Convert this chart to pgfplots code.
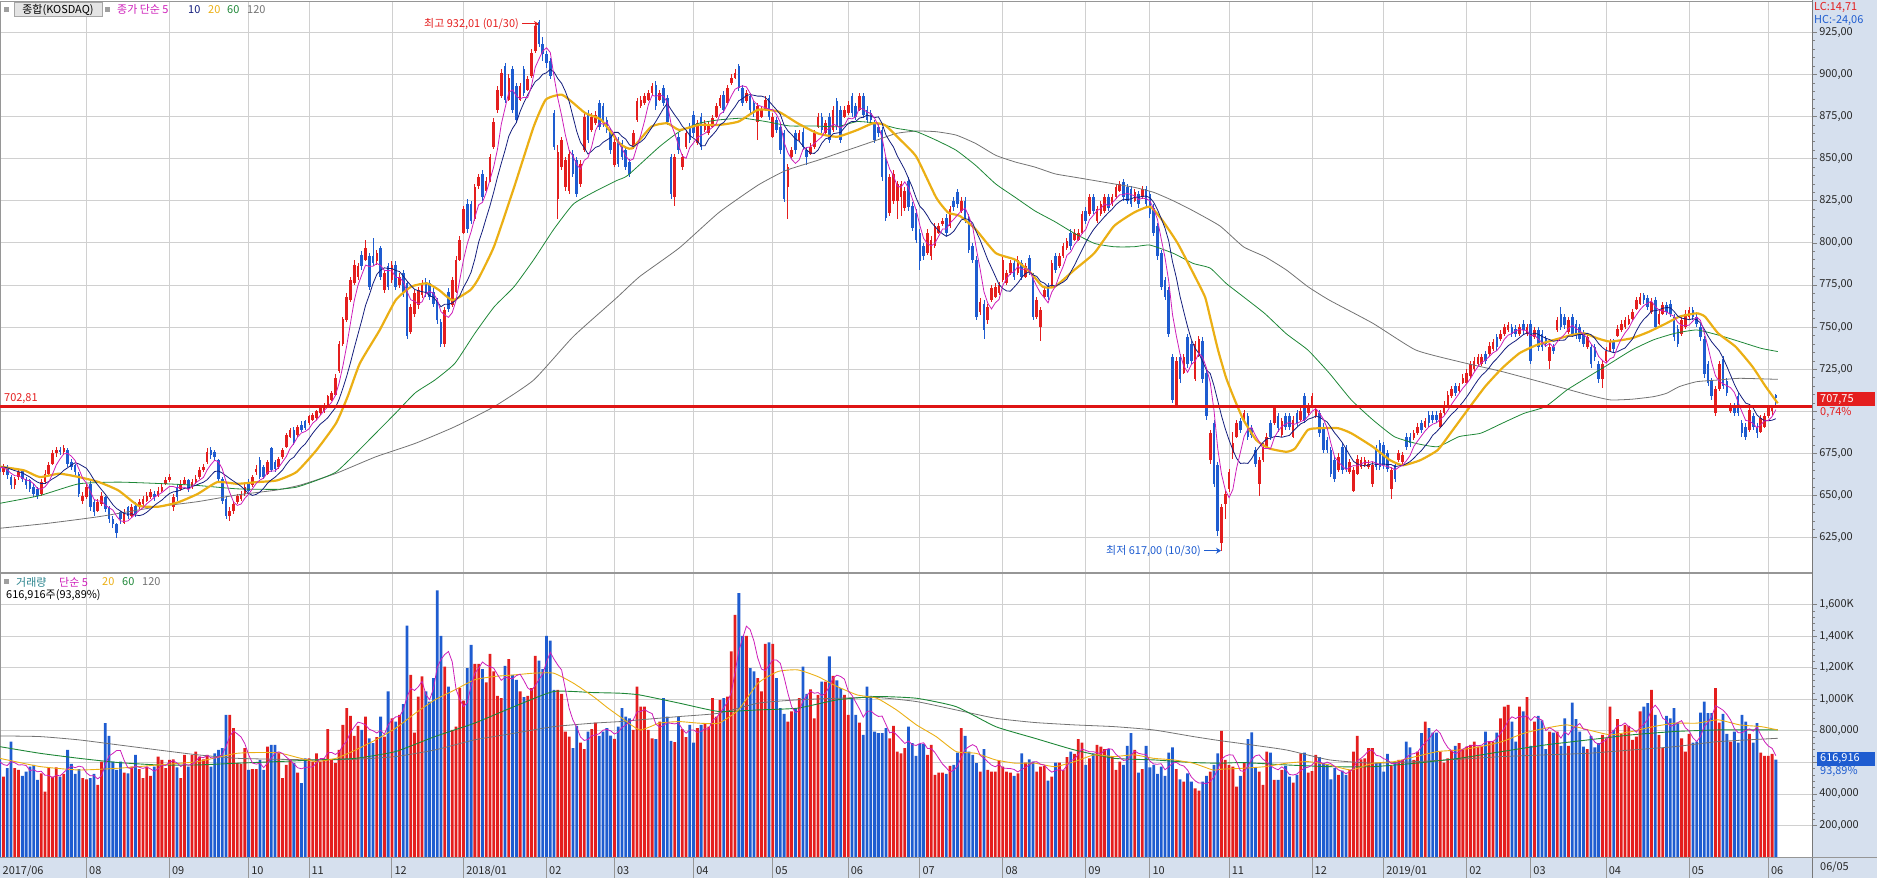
\documentclass[border=0pt]{standalone}
\usepackage{pgfplots}
\pgfplotsset{compat=1.18}
\usepackage{pgfplotstable}
\usepackage{fontspec}
\setmainfont{Noto Sans CJK KR}
\newfontfamily\kr{Noto Sans CJK KR}
\usetikzlibrary{arrows.meta}
\definecolor{cup}{RGB}{228,30,30}
\definecolor{cdn}{RGB}{30,92,208}
\definecolor{cma5}{RGB}{205,30,185}
\definecolor{cma10}{RGB}{20,30,125}
\definecolor{cma20}{RGB}{235,175,20}
\definecolor{cma60}{RGB}{30,135,55}
\definecolor{cma120}{RGB}{115,115,115}
\definecolor{gridc}{RGB}{208,208,208}
\definecolor{framec}{RGB}{150,150,150}
\definecolor{panelbg}{RGB}{214,224,238}
\definecolor{tealc}{RGB}{40,130,140}
\definecolor{lblc}{RGB}{40,40,40}

\pgfplotstableread{
i o h l c v
-10 666 668 663 665 610
-9 665 669 664 667 600
-8 667 669 664 665 580
-7 665 669 664 668 620
-6 668 671 666 670 640
-5 670 672 666 667 600
-4 667 670 665 669 590
-3 669 671 665 666 610
-2 666 669 663 667 600
-1 667 668 662 664 620
0 664 669 662 667 510
1 667 668 660 662 563
2 661 662 654 656 732
3 656 661 654 660 563
4 661 666 659 664 552
5 665 666 658 660 514
6 660 661 654 656 542
7 659 660 652 654 574
8 655 657 649 651 584
9 654 655 648 650 489
10 651 660 650 658 531
11 658 665 657 663 415
12 663 670 662 668 569
13 669 677 668 675 510
14 675 679 673 677 569
15 677 679 674 676 510
16 676 680 674 678 527
17 677 678 667 669 679
18 670 672 665 667 590
19 668 669 662 664 527
20 663 664 649 651 557
21 647 652 645 650 500
22 649 657 648 655 493
23 657 659 641 643 500
24 646 648 638 640 527
25 641 648 640 646 457
26 645 652 644 650 605
27 649 650 640 642 849
28 643 644 634 636 768
29 636 638 631 633 605
30 633 634 625 628 552
31 640 641 633 636 605
32 634 642 633 640 535
33 643 644 636 638 531
34 638 645 637 643 574
35 644 646 637 639 648
36 643 648 642 646 557
37 645 650 644 648 500
38 647 652 646 650 574
39 649 654 648 652 514
40 651 653 647 649 574
41 650 655 649 653 637
42 653 657 652 655 616
43 657 661 656 659 563
44 659 663 658 661 616
45 643 651 641 649 620
46 655 657 647 649 569
47 654 659 653 657 500
48 657 661 656 659 648
49 659 660 652 654 574
50 655 660 654 658 648
51 658 662 657 660 669
52 661 667 660 665 637
53 665 669 664 667 620
54 670 678 669 676 648
55 677 679 672 674 574
56 676 677 671 673 658
57 671 672 658 660 679
58 660 661 645 647 690
59 648 650 636 638 902
60 638 643 635 641 902
61 641 647 639 645 817
62 646 651 645 650 595
63 648 653 647 651 590
64 651 657 650 655 690
65 658 660 652 653 552
66 656 662 655 661 557
67 664 668 662 666 557
68 671 673 660 661 616
69 667 668 660 661 552
70 663 671 662 670 700
71 678 679 664 665 711
72 670 671 664 666 711
73 667 673 666 672 662
74 673 678 672 677 500
75 679 687 678 686 584
76 685 690 684 689 616
77 689 691 680 681 595
78 686 692 685 691 535
79 692 694 688 689 468
80 694 695 689 690 626
81 693 698 692 697 626
82 695 699 694 698 605
83 696 701 695 700 658
84 699 704 698 703 605
85 700 705 699 704 626
86 704 710 703 709 811
87 707 712 706 711 616
88 710 722 709 720 595
89 724 742 723 740 679
90 740 756 739 755 838
91 754 770 753 768 944
92 766 780 765 778 895
93 776 790 775 787 768
94 780 788 778 786 832
95 793 795 784 786 806
96 790 802 789 797 891
97 792 794 772 774 753
98 792 803 786 788 722
99 789 796 787 794 760
100 797 798 778 780 891
101 772 784 770 782 764
102 786 788 772 774 1050
103 778 789 776 787 880
104 787 789 772 774 859
105 775 782 773 780 902
106 782 784 768 770 969
107 776 777 743 745 1467
108 747 764 746 762 1155
109 758 772 756 770 789
110 763 774 761 772 1018
111 769 778 767 776 1145
112 777 779 768 770 1050
113 776 778 766 768 986
114 771 773 762 764 1134
115 766 767 752 754 1691
116 753 755 738 740 1403
117 740 762 738 760 1208
118 771 773 759 761 1081
119 763 780 762 778 806
120 771 792 770 790 827
121 790 804 789 802 1071
122 806 822 805 820 992
123 823 826 806 808 1198
124 823 825 811 813 1346
125 814 835 813 833 1225
126 834 841 832 839 1225
127 841 843 825 827 1191
128 831 839 830 837 1107
129 837 853 836 851 1289
130 857 874 856 872 1177
131 879 893 877 891 1022
132 887 903 886 901 1007
133 905 907 883 885 1213
134 885 900 884 898 1255
135 903 905 877 879 1155
136 893 895 871 873 1124
137 885 895 884 893 1050
138 903 905 887 889 1014
139 891 899 890 897 1022
140 899 915 898 913 1071
141 914 931 913 929 1276
142 931 932.01 916 918 1246
143 918 922 908 912 1191
144 912 914 904 907 1403
145 908 910 897 899 1373
146 877 879 855 857 1060
147 826 858 814 854 1060
148 845 863 843 861 1035
149 833 851 831 849 796
150 831 855 829 853 764
151 853 855 839 841 690
152 849 851 827 829 832
153 835 849 833 847 726
154 855 877 854 875 684
155 877 879 859 861 796
156 867 877 866 875 811
157 871 878 870 876 853
158 883 885 867 869 768
159 881 883 869 871 796
160 873 875 865 867 817
161 866 868 853 855 770
162 846 862 845 860 749
163 861 863 845 847 827
164 859 861 849 851 944
165 855 857 843 845 891
166 848 850 839 841 880
167 857 867 856 865 806
168 873 886 872 884 1081
169 881 887 880 885 954
170 883 889 882 887 954
171 885 891 884 889 806
172 889 895 888 893 753
173 894 896 879 881 747
174 885 891 884 889 859
175 892 894 881 883 1007
176 886 888 870 872 891
177 851 853 826 829 736
178 827 853 822 851 728
179 863 865 853 855 891
180 845 853 843 851 811
181 857 867 856 865 760
182 869 871 859 861 838
183 876 878 863 865 726
184 859 873 858 871 817
185 875 877 855 857 838
186 867 873 866 871 849
187 865 872 864 870 827
188 869 876 868 874 1007
189 875 883 874 881 891
190 881 888 880 886 997
191 888 890 877 879 1007
192 883 894 882 892 1018
193 895 900 894 898 1304
194 898 903 897 901 1536
195 905 906 890 892 1674
196 892 894 881 883 1403
197 884 891 883 889 1403
198 887 889 877 879 1198
199 883 885 875 877 1177
200 872 883 861 881 1134
201 875 881 874 879 1050
202 879 887 878 885 1352
203 886 888 873 875 1361
204 863 877 862 875 1352
205 873 875 865 867 1134
206 869 871 853 855 944
207 865 867 824 826 908
208 833 847 814 845 859
209 851 857 850 855 923
210 865 867 853 855 944
211 861 867 860 865 1007
212 866 868 855 857 1208
213 855 857 846 851 1035
214 853 859 852 857 1064
215 857 867 856 865 880
216 869 877 868 875 1028
217 875 877 865 867 1113
218 865 873 864 871 1113
219 875 877 859 861 1272
220 867 881 866 879 1149
221 884 886 867 869 1120
222 879 881 859 861 1071
223 875 881 874 879 1028
224 877 884 876 882 902
225 887 889 875 877 1007
226 881 883 873 875 902
227 879 889 878 887 853
228 887 889 874 876 775
229 879 881 871 873 1081
230 877 879 871 873 1022
231 871 873 859 861 796
232 869 871 863 865 785
233 867 869 837 839 785
234 849 851 813 815 817
235 818 841 816 839 753
236 825 843 823 841 832
237 825 837 814 835 669
238 827 837 816 835 658
239 821 833 819 831 690
240 837 839 819 821 827
241 822 824 807 809 722
242 818 820 800 802 641
243 806 808 784 789 717
244 798 800 790 792 717
245 794 808 793 806 648
246 792 804 790 802 711
247 798 812 797 810 521
248 806 812 805 810 535
249 811 815 810 813 535
250 815 817 804 806 527
251 810 822 809 820 578
252 825 827 819 821 584
253 830 832 821 823 662
254 819 827 818 825 817
255 825 827 812 814 768
256 815 817 794 796 669
257 798 800 788 790 648
258 790 792 754 756 595
259 759 767 757 765 542
260 764 766 743 748 684
261 754 764 752 762 552
262 766 775 765 773 542
263 768 776 767 774 542
264 770 777 769 775 612
265 778 792 777 790 574
266 776 784 775 782 542
267 782 790 781 788 535
268 788 790 778 780 514
269 782 792 781 790 531
270 788 790 778 780 658
271 780 788 779 786 599
272 791 793 781 783 620
273 780 782 754 756 605
274 756 768 755 766 542
275 750 762 742 760 574
276 768 774 767 772 578
277 774 776 766 768 485
278 774 790 773 788 510
279 792 794 782 784 599
280 786 794 785 792 599
281 792 800 791 798 552
282 797 803 796 801 633
283 806 808 796 798 669
284 802 808 801 806 654
285 802 808 801 806 747
286 806 819 805 817 726
287 819 821 811 813 584
288 817 829 816 827 626
289 827 829 817 819 658
290 813 822 812 820 711
291 817 825 816 823 700
292 819 829 818 827 684
293 827 829 819 821 684
294 823 829 822 827 637
295 827 835 826 833 552
296 831 837 830 835 605
297 836 838 825 827 584
298 833 835 823 825 705
299 832 834 821 823 785
300 825 832 824 830 679
301 829 831 821 823 535
302 827 834 826 832 557
303 832 834 821 823 705
304 829 831 815 817 569
305 821 823 804 806 584
306 810 812 790 792 527
307 794 796 772 774 574
308 778 780 766 768 514
309 772 774 744 746 662
310 732 734 705 707 696
311 704 732 703 730 557
312 732 734 717 719 493
313 723 734 722 732 478
314 744 746 726 728 531
315 740 742 728 730 478
316 719 742 718 740 436
317 733 745 732 743 421
318 742 744 717 719 478
319 723 725 695 697 514
320 671 689 669 687 542
321 693 695 655 657 584
322 668 670 626 629 658
323 622 645 617 643 800
324 645 653 636 651 616
325 654 666 652 664 584
326 675 688 672 681 574
327 685 695 684 693 447
328 694 696 687 689 514
329 695 701 694 699 595
330 697 699 683 685 747
331 690 692 684 686 791
332 677 679 667 669 563
333 657 673 650 671 542
334 671 681 670 679 457
335 679 687 678 685 669
336 693 695 683 685 662
337 693 704 692 702 489
338 697 699 688 690 489
339 686 696 685 694 552
340 697 699 689 691 578
341 697 699 689 691 510
342 685 697 684 695 472
343 699 701 691 693 521
344 695 702 694 700 658
345 709 711 693 695 662
346 699 705 698 703 535
347 703 711 702 709 544
348 697 703 696 701 648
349 699 701 685 687 633
350 691 693 675 677 595
351 683 685 675 677 590
352 677 679 661 663 493
353 671 673 658 660 563
354 665 675 664 673 521
355 679 681 663 665 548
356 678 680 664 666 521
357 664 672 663 670 552
358 653 667 652 665 669
359 663 674 662 672 768
360 667 673 666 671 620
361 668 673 667 671 626
362 667 671 666 669 690
363 657 670 655 668 690
364 678 680 665 667 599
365 681 683 665 667 595
366 680 682 666 668 542
367 675 677 664 666 654
368 654 667 648 665 578
369 668 670 658 660 599
370 671 677 670 675 616
371 670 676 669 674 616
372 685 687 677 679 732
373 685 687 679 681 696
374 684 689 683 687 616
375 687 693 686 691 669
376 693 695 687 689 785
377 691 696 690 694 859
378 698 700 691 693 817
379 698 700 693 695 789
380 698 700 693 695 789
381 691 701 690 699 669
382 699 706 698 704 599
383 704 712 703 710 626
384 709 715 708 713 679
385 715 717 709 711 705
386 712 717 711 715 722
387 717 722 716 720 686
388 717 725 716 723 700
389 721 730 720 728 711
390 725 732 724 730 732
391 728 734 727 732 700
392 728 734 727 732 705
393 734 736 728 730 796
394 734 741 733 739 732
395 737 743 736 741 732
396 744 746 736 738 789
397 743 748 742 746 880
398 746 752 745 750 954
399 748 753 747 751 965
400 750 752 744 746 859
401 749 751 744 746 732
402 746 752 745 750 954
403 752 754 746 748 923
404 746 752 745 750 1014
405 752 754 728 730 705
406 744 750 743 748 859
407 748 750 736 738 895
408 746 748 736 738 866
409 743 745 738 740 684
410 730 740 725 738 796
411 738 740 734 736 789
412 748 756 747 754 796
413 758 762 748 750 705
414 756 758 749 751 880
415 747 756 746 754 705
416 756 758 744 746 980
417 752 754 743 745 874
418 750 752 741 743 796
419 746 748 738 740 700
420 738 746 737 744 684
421 738 740 726 728 768
422 738 740 730 732 696
423 728 730 717 719 722
424 719 730 714 728 775
425 730 738 729 736 753
426 736 743 735 741 954
427 741 743 735 737 806
428 745 751 744 749 874
429 748 754 747 752 781
430 750 756 749 754 838
431 752 757 751 755 832
432 755 761 754 759 743
433 761 768 760 766 764
434 764 770 763 768 923
435 769 770 764 766 954
436 767 769 760 762 976
437 759 767 758 765 1060
438 766 768 748 750 902
439 752 760 751 758 775
440 758 765 757 763 690
441 763 765 757 759 895
442 764 766 756 758 880
443 756 758 742 744 944
444 749 751 738 740 853
445 746 756 745 754 753
446 750 760 749 758 669
447 756 762 755 760 781
448 760 762 754 756 726
449 756 758 750 752 732
450 750 752 742 744 916
451 743 745 720 722 986
452 728 730 715 717 912
453 718 720 707 709 912
454 699 715 697 713 1071
455 713 730 712 728 853
456 731 733 713 715 908
457 718 720 709 711 781
458 700 705 699 703 732
459 703 705 697 699 796
460 709 711 697 699 726
461 693 695 685 687 902
462 691 693 683 685 859
463 689 703 688 701 781
464 697 699 689 691 726
465 691 693 684 687 849
466 688 698 687 696 662
467 691 699 690 697 641
468 697 704 696 702 641
469 700 704 698 702.5 654
470 709.5 710.5 704 707.75 617
}\data

% moving averages of 5 and 10 rows, computed from the table
\newcommand\computeMA[3]{%
  \gdef\qa{0}\gdef\qb{0}\gdef\qc{0}\gdef\qd{0}\gdef\qe{0}\gdef\qf{0}\gdef\qg{0}\gdef\qh{0}\gdef\qi{0}%
  \gdef#2{}\gdef#3{}%
  \pgfplotstableforeachcolumnelement{#1}\of\data\as\cur{%
    \pgfmathsetmacro\mfive{(\cur+\qa+\qb+\qc+\qd)/5}%
    \pgfmathsetmacro\mten{(\cur+\qa+\qb+\qc+\qd+\qe+\qf+\qg+\qh+\qi)/10}%
    \pgfmathtruncatemacro\xx{\pgfplotstablerow-10}%
    \ifnum\pgfplotstablerow>8 \xdef#2{#2 (\xx,\mfive)}\xdef#3{#3 (\xx,\mten)}\fi
    \global\let\qi\qh \global\let\qh\qg \global\let\qg\qf \global\let\qf\qe
    \global\let\qe\qd \global\let\qd\qc \global\let\qc\qb \global\let\qb\qa
    \global\let\qa\cur
  }%
}
\computeMA{c}{\maFive}{\maTen}
\computeMA{v}{\vmaFive}{\vmaTen}

\pgfplotsset{
  lbl/.style={font=\kr\fontsize{11}{12}\selectfont},
  candle/.style={only marks, mark=none, no markers, mark size=0pt,
     mark options={draw=none, fill=none}, forget plot,
     error bars/.cd, y dir=both, y explicit, error mark=none},
  upsel/.style={restrict expr to domain={\thisrow{c}-\thisrow{o}}{0:1000}},
  dnsel/.style={restrict expr to domain={\thisrow{c}-\thisrow{o}}{-1000:-0.001}},
}

\begin{document}
\begin{tikzpicture}[x=1bp,y=1bp]
\path[use as bounding box] (0bp,0bp) rectangle (1877bp,878bp);
\fill[panelbg] (1812bp,0bp) rectangle (1877bp,878bp);
\fill[panelbg] (0bp,0bp) rectangle (1812bp,21bp);

% ---------------- price panel ----------------
\begin{axis}[
  at={(0bp,305bp)}, anchor=south west, scale only axis,
  width=1812bp, height=572bp,
  xmin=-0.93, xmax=479.6, ymin=604.05, ymax=943.58,
  axis line style={draw=framec, line width=0.8bp},
  xtick={22,44,65,81,103,122,144,162,183,204,224,243,265,287,304,325,347,366,388,405,425,447,468},
  xticklabels={}, xmajorgrids, major x tick style={draw=none},
  ytick={625,650,675,700,725,750,775,800,825,850,875,900,925},
  yticklabels={{625,00},{650,00},{675,00},{},{725,00},{750,00},{775,00},{800,00},{825,00},{850,00},{875,00},{900,00},{925,00}},
  ymajorgrids, ytick pos=right, yticklabel pos=right,
  minor y tick num=4,
  tick align=outside, major tick length=5bp, minor tick length=3bp,
  major y tick style={draw=gray, line width=0.6bp},
  minor y tick style={draw=gray, line width=0.6bp},
  grid style={draw=gridc, line width=0.8bp},
  yticklabel style={lbl, text=lblc, inner sep=0pt, anchor=west, xshift=2bp},
]
% wicks
\addplot[upsel, candle, error bar style={line width=0.9bp, draw=cup}]
  table[x=i, y expr={(\thisrow{h}+\thisrow{l})/2}, y error expr={(\thisrow{h}-\thisrow{l})/2}] {\data};
\addplot[dnsel, candle, error bar style={line width=0.9bp, draw=cdn}]
  table[x=i, y expr={(\thisrow{h}+\thisrow{l})/2}, y error expr={(\thisrow{h}-\thisrow{l})/2}] {\data};
% bodies
\addplot[upsel, candle, error bar style={line width=2.6bp, draw=cup}]
  table[x=i, y expr={(\thisrow{o}+\thisrow{c})/2}, y error expr={max(abs(\thisrow{c}-\thisrow{o})/2,0.4)}] {\data};
\addplot[dnsel, candle, error bar style={line width=2.6bp, draw=cdn}]
  table[x=i, y expr={(\thisrow{o}+\thisrow{c})/2}, y error expr={max(abs(\thisrow{c}-\thisrow{o})/2,0.4)}] {\data};

% MA 120
\addplot[cma120, line width=0.8bp, smooth, tension=0.3] coordinates {
(-1,630.6) (11.6,633.5) (25.3,637.5) (41,643.4) (51.5,646.4) (62,650.4) (72.5,653.3) (78.8,656.3) (88.2,663.2) (98.7,673) (109.2,681) (119.7,690.9) (130.1,702.8) (140.6,718.6) (151.1,744.4) (162.4,767) (168.7,780) (179.2,797) (189.7,818) (200.1,834.3) (207.5,843) (215.9,849) (221.1,853) (226.4,857) (231.6,861) (236.8,865) (242.1,866.4) (247.3,866) (252.6,864) (257.8,859) (263.1,852) (268.3,848) (273.5,845) (278.8,841) (284,839) (289.3,837) (294.5,835) (299.8,833) (305,830) (310.2,825) (315.5,819) (322.6,810) (328.8,797.7) (334.5,791.8) (340.2,783.9) (345.9,774) (351.6,766) (363.1,752.3) (374.5,736.4) (386,729.5) (397.4,723.6) (408.9,716.7) (420.3,709.7) (426.1,706.8) (431.8,707.2) (437.5,708.7) (441,710.7) (444.4,714.7) (449,717.6) (454.7,718.6) (460.4,719.6) (470.5,719)};
% MA 60
\addplot[cma60, line width=0.8bp, smooth, tension=0.3] coordinates {
(-1,645.4) (9.6,650) (20,657) (30.5,658) (43,657) (51.5,656) (62,654) (72.5,653.7) (77.7,655) (83,659) (88.2,664) (93.4,675) (98.7,687) (104,699) (109.2,711) (114.4,718.6) (119.7,728.5) (124.9,746) (130.1,762) (135.4,774) (140.6,790) (145.9,808) (151.1,823) (156.4,830) (162.6,837) (165.5,840) (173.9,857) (179.2,866) (184.4,871) (189.7,873) (196,874) (202.2,872) (208.5,869.4) (214.8,869.4) (221.1,869) (226.4,872) (231.6,871) (236.8,868) (242.1,866) (247.3,861) (252.6,855) (257.8,846) (263.1,835) (268.3,827) (273.5,819) (278.8,812.6) (284,805.6) (289.3,799.7) (294.5,797.7) (299.8,797.7) (304,798.7) (310.2,793.8) (315.5,787.8) (320,785) (324.2,776) (328.8,768) (334.5,758) (340.2,746) (345.9,736.4) (351.6,722.6) (357.4,706.8) (363.1,695) (368.8,685) (374.5,681) (380.3,679) (386,685) (391.7,687) (397.4,692.9) (403.2,698.8) (408.9,702.8) (414.6,712.7) (420.3,720.6) (426.1,728.5) (431.8,736.4) (437.5,742.4) (443.2,746.3) (449,748.3) (454.7,745.3) (460.4,741.4) (466.1,737.4) (470.5,735.5)};
% MA 20
\addplot[cma20, line width=2.2bp, smooth, tension=0.3] coordinates {
(-1,667.2) (5.4,665) (9.6,661) (14.8,663) (20,661) (25.3,658) (30.5,653) (35.8,644) (41,643.4) (46.3,646) (51.5,651) (56.7,658) (62,657) (67.2,658) (72.5,659) (77.7,664) (83,677) (88.2,693) (91.3,709) (94.5,728.5) (99.7,748) (104,766) (108.1,774) (112.3,776) (115.5,772) (119.1,766) (123.8,772) (126,779) (130.1,798) (135.4,833) (140.6,869) (143.8,885) (148,888) (151.1,883) (154.3,877) (158.5,873) (163.4,859) (166.6,856) (171.8,869) (176,871) (179.2,867) (184.4,870) (189.7,870) (194.9,872) (200.1,879) (205.4,878) (210.6,871) (215.9,865) (221.1,863) (226.4,867) (230.6,871) (233.7,870) (237.9,861) (242.1,851) (247.3,827) (250.5,818) (253.6,816) (257.8,808) (263.1,794) (268.3,790) (272.5,782) (275.6,774) (278.8,774) (284,784) (289.3,794) (294.5,810) (299.8,818) (304,821.5) (307.1,814) (311.3,800) (315.5,782) (318.6,768) (320,755.6) (322,737) (324.2,720) (326.5,706.8) (328.8,695) (332.2,683) (335.6,678) (340.2,676) (342.5,678) (345.9,689) (349.4,690) (353.9,690) (357.4,687) (363.1,679) (367.7,671) (371.1,668) (375.7,671) (380.3,677) (383.7,687) (388.3,701) (392.9,714.7) (397.4,725.6) (402,734.5) (406.6,739.4) (411.2,742.4) (415.8,745.3) (419.2,746.3) (422.6,743.4) (426.1,741.4) (431.8,743.4) (436.4,747.3) (441,752.3) (444.4,756.2) (449,758.2) (451.2,756.2) (454.7,746.3) (459.3,738.4) (463.8,726.5) (467.3,714.7) (470.5,704.8)};
% MA 10 and MA 5 (computed)
\edef\tmp{\noexpand\addplot[cma10, line width=0.8bp] coordinates {\maTen};}\tmp
\edef\tmp{\noexpand\addplot[cma5, line width=0.8bp] coordinates {\maFive};}\tmp

\draw[draw={rgb,255:red,222;green,20;blue,20}, line width=2.6bp] (axis cs:-0.93,702.81) -- (axis cs:479.6,702.81);
\end{axis}

% ---------------- volume panel ----------------
\begin{axis}[
  at={(0bp,21bp)}, anchor=south west, scale only axis,
  width=1812bp, height=284bp,
  xmin=-0.93, xmax=479.6, ymin=0, ymax=1801.5,
  axis line style={draw=framec, line width=0.8bp},
  xtick={-0.93,22,44,65,81,103,122,144,162,183,204,224,243,265,287,304,325,347,366,388,405,425,447,468},
  xticklabels={2017/06,08,09,10,11,12,2018/01,02,03,04,05,06,07,08,09,10,11,12,2019/01,02,03,04,05,06},
  xmajorgrids, major x tick style={draw=none},
  xticklabel style={lbl, text=lblc, anchor=north west, inner sep=0pt, xshift=2.5bp, yshift=-4bp},
  ytick={200,400,600,800,1000,1200,1400,1600},
  yticklabels={{200,000},{400,000},{},{800,000},{1,000K},{1,200K},{1,400K},{1,600K}},
  ymajorgrids, ytick pos=right, yticklabel pos=right,
  minor y tick num=4,
  tick align=outside, major tick length=5bp, minor tick length=3bp,
  major y tick style={draw=gray, line width=0.6bp},
  minor y tick style={draw=gray, line width=0.6bp},
  grid style={draw=gridc, line width=0.8bp},
  yticklabel style={lbl, text=lblc, inner sep=0pt, anchor=west, xshift=2bp},
]
\addplot[ybar, bar width=2.8bp, bar shift=0pt, fill=cup, draw=none, forget plot, upsel] table[x=i, y=v] {\data};
\addplot[ybar, bar width=2.8bp, bar shift=0pt, fill=cdn, draw=none, forget plot, dnsel] table[x=i, y=v] {\data};
% volume MA 120
\addplot[cma120, line width=0.8bp, smooth, tension=0.3] coordinates {
(-1,768) (9.6,764) (20,743) (30.5,711) (41,679) (51.5,648) (62,626) (72.5,620) (83,616) (93.4,620) (104,637) (114.4,679) (124.9,743) (135.4,785) (145.9,827) (156.4,849) (163.5,859) (168.7,870) (179.2,891) (189.7,912) (200.1,976) (210.6,997) (221.1,1007) (231.6,1012) (242.1,986) (252.6,933) (263.1,880) (273.5,853) (284,838) (294.5,827) (305,806) (315.5,764) (322,740) (328.8,718) (340.2,679) (351.6,616) (363.1,595) (374.5,605) (386,620) (397.4,637) (408.9,648) (420.3,658) (431.8,679) (443.2,700) (454.7,732) (470.5,753)};
% volume MA 60
\addplot[cma60, line width=0.9bp, smooth, tension=0.3] coordinates {
(-1,700) (9.6,658) (20,626) (30.5,599) (41,584) (51.5,584) (62,595) (72.5,605) (83,616) (93.4,626) (104,669) (114.4,764) (124.9,849) (135.4,954) (145.9,1050) (156.4,1043) (163.5,1039) (168.7,1028) (179.2,976) (189.7,923) (200.1,933) (210.6,944) (221.1,997) (231.6,1018) (242.1,1007) (252.6,954) (263.1,827) (273.5,753) (284,679) (294.5,626) (305,616) (315.5,599) (322.6,595) (328.8,599) (340.2,584) (351.6,573) (363.1,573) (374.5,595) (386,626) (397.4,669) (408.9,711) (420.3,743) (431.8,775) (443.2,796) (454.7,806) (470.5,806)};
% volume MA 20
\addplot[cma20, line width=0.9bp, smooth, tension=0.3] coordinates {
(-1,626) (9.6,574) (20,552) (30.5,563) (41,584) (51.5,605) (62,658) (72.5,662) (78.8,626) (83,605) (88.2,626) (93.4,679) (98.7,743) (104,817) (109.2,912) (114.4,997) (119.7,1060) (124.9,1124) (130.1,1145) (135.4,1155) (140.6,1166) (145.9,1166) (151.1,1103) (156.4,1018) (160,950) (163.4,891) (168.7,806) (173.9,849) (179.2,859) (184.4,849) (189.7,849) (194.9,933) (200.1,1103) (205.4,1177) (210.6,1187) (215.9,1145) (221.1,1081) (226.4,1028) (231.6,1007) (236.8,933) (242.1,838) (247.3,764) (252.6,669) (257.8,658) (263.1,616) (268.3,595) (273.5,595) (278.8,573) (284,605) (289.3,648) (294.5,637) (299.8,648) (305,626) (310.2,616) (315.5,595) (320.7,552) (323,557) (328.8,563) (334.5,573) (340.2,595) (345.9,605) (351.6,584) (357.4,552) (363.1,595) (368.8,605) (374.5,637) (380.3,669) (386,679) (391.7,700) (397.4,732) (403.2,785) (408.9,817) (414.6,838) (420.3,806) (426.1,775) (431.8,796) (437.5,827) (443.2,849) (449,849) (454.7,870) (460.4,838) (466.1,827) (470.5,806)};
% volume MA 5 (computed)
\edef\tmp{\noexpand\addplot[cma5, line width=0.8bp] coordinates {\vmaFive};}\tmp
\end{axis}

% month separators in the date strip (same mapping as the axes: 3.507 + 3.7708*index)
\foreach \t in {22,44,65,81,103,122,144,162,183,204,224,243,265,287,304,325,347,366,388,405,425,447,468}{
  \draw[framec, line width=0.8bp] ({3.507+3.7708*\t},0) -- ({3.507+3.7708*\t},21);
}
% frame lines
\draw[framec, line width=1.2bp] (0,305) -- (1812,305);
\draw[draw={rgb,255:red,120;green,120;blue,120}, line width=1bp] (1812,0) -- (1812,878);
\draw[framec, line width=0.8bp] (0,21) -- (1877,21);

% ---------------- texts ----------------
\begin{scope}[every node/.style={font=\kr\fontsize{11}{12}\selectfont, inner sep=0pt}]
% price legend
\fill[gray!75] (4,866) rectangle (9,871);
\filldraw[fill={rgb,255:red,228;green,228;blue,228}, draw=gray!70] (14,862) rectangle (102,875.5);
\node[anchor=center, text=black] at (58,868.5) {종합(KOSDAQ)};
\fill[gray!75] (105,866) rectangle (110,871);
\node[anchor=west, text=cma5] at (117,868.5) {종가 단순 5};
\node[anchor=west, text=cma10] at (188,868.5) {10};
\node[anchor=west, text=cma20] at (208,868.5) {20};
\node[anchor=west, text=cma60] at (227,868.5) {60};
\node[anchor=west, text=cma120] at (247,868.5) {120};
% high / low annotations
\node[anchor=east, text=cup] at (519,854) {최고 932,01 (01/30)};
\draw[cup, line width=1bp, -{Stealth[length=5bp,width=6bp]}] (522,854) -- (539,854);
\node[anchor=east, text=cdn] at (1201,327.3) {최저 617,00 (10/30)};
\draw[cdn, line width=1bp, -{Stealth[length=5bp,width=6bp]}] (1204,327.3) -- (1221,327.3);
% base line label
\node[anchor=west, text=cup] at (4,479) {702,81};
% volume legend
\fill[gray!75] (4,293.5) rectangle (9,298.5);
\node[anchor=west, text=tealc] at (16,296) {거래량};
\node[anchor=west, text=cma5] at (59,296) {단순 5};
\node[anchor=west, text=cma20] at (102,296) {20};
\node[anchor=west, text=cma60] at (122,296) {60};
\node[anchor=west, text=cma120] at (142,296) {120};
\node[anchor=west, text=black] at (6,283) {616,916주(93,89\%)};
% right panel
\node[anchor=west, text=cup] at (1814,870.7) {LC:14,71};
\node[anchor=west, text=cdn] at (1814,858) {HC:-24,06};
\fill[cup] (1817,472) rectangle (1875,485.5);
\node[anchor=west, text=white] at (1820,478.7) {707,75};
\node[anchor=west, text=cup] at (1820,465.5) {0,74\%};
\fill[cdn] (1817,112.3) rectangle (1875,125.8);
\node[anchor=west, text=white] at (1820,119) {616,916};
\node[anchor=west, text=cdn] at (1820,106.3) {93,89\%};
\node[anchor=west, text=lblc] at (1820,10.5) {06/05};
\end{scope}
\end{tikzpicture}
\end{document}
